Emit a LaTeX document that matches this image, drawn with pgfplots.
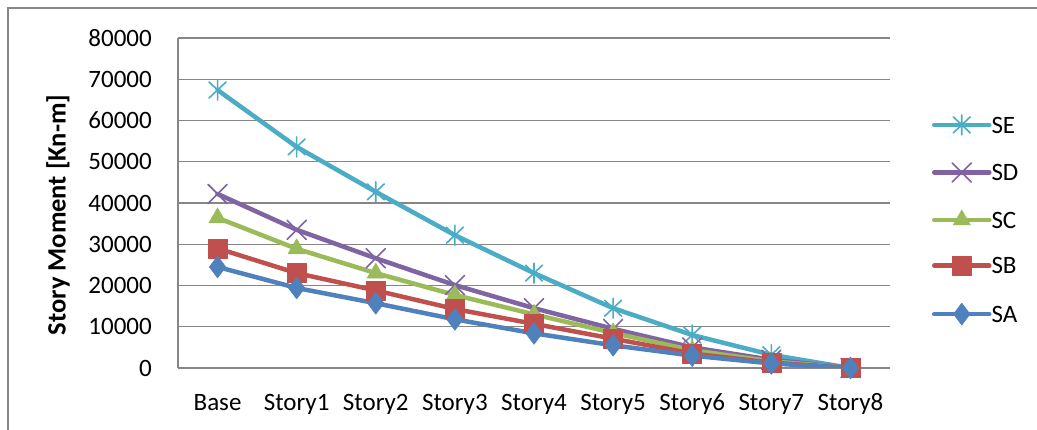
\documentclass[border=0pt]{standalone}
\usepackage{fontspec}
\setmainfont{Carlito}
\usepackage{pgfplots}
\pgfplotsset{compat=1.18}
\definecolor{cSE}{RGB}{75,172,198}
\definecolor{cSD}{RGB}{128,100,162}
\definecolor{cSC}{RGB}{155,187,89}
\definecolor{cSB}{RGB}{192,80,77}
\definecolor{cSA}{RGB}{79,129,189}
\definecolor{gridc}{RGB}{134,134,134}
\pgfdeclareplotmark{xstar}{%
  \pgfpathmoveto{\pgfqpoint{0pt}{\pgfplotmarksize}}%
  \pgfpathlineto{\pgfqpoint{0pt}{-\pgfplotmarksize}}%
  \pgfpathmoveto{\pgfqpoint{-0.85\pgfplotmarksize}{-0.8\pgfplotmarksize}}%
  \pgfpathlineto{\pgfqpoint{0.85\pgfplotmarksize}{0.8\pgfplotmarksize}}%
  \pgfpathmoveto{\pgfqpoint{-0.85\pgfplotmarksize}{0.8\pgfplotmarksize}}%
  \pgfpathlineto{\pgfqpoint{0.85\pgfplotmarksize}{-0.8\pgfplotmarksize}}%
  \pgfusepathqstroke}
\begin{document}
\begin{tikzpicture}
\useasboundingbox (0,0) rectangle (1037bp,430bp);
\fill[white] (0,0) rectangle (1037bp,430bp);
\draw[gridc, line width=1.5bp] (8bp,-2bp) -- (8bp,422bp) -- (1040bp,422bp);
\begin{axis}[
  at={(178bp,62bp)}, anchor=south west,
  width=712bp, height=330bp, scale only axis,
  xmin=-0.5, xmax=8.5, ymin=0, ymax=80000,
  xtick={0,...,8},
  xticklabels={Base,Story1,Story2,Story3,Story4,Story5,Story6,Story7,Story8},
  ytick={0,10000,...,80000},
  /pgf/number format/1000 sep={},
  /pgf/number format/assume math mode=true,
  scaled y ticks=false,
  axis lines*=left,
  axis line style={draw=gridc, line width=1.2bp},
  ymajorgrids,
  grid style={draw=gridc, line width=1.2bp},
  major tick length=0pt,
  tick style={draw=none},
  ticklabel style={font=\fontsize{25bp}{30bp}\selectfont},
  yticklabel style={anchor=east, inner sep=0pt, xshift=-26bp},
  xticklabel style={anchor=base, inner sep=0pt, yshift=-42bp},
  ylabel={\bfseries Story Moment [Kn-m]},
  ylabel style={at={(axis description cs:-0.1685,0.464)}, anchor=center, inner sep=0pt, font=\fontsize{26.5bp}{30bp}\selectfont},
  legend style={at={(axis description cs:1.0590,0.4485)}, anchor=west, draw=none, fill=none,
    inner sep=0pt, outer sep=0pt, row sep=28bp,
    font=\fontsize{25bp}{30bp}\selectfont,
    nodes={inner sep=0pt, text depth=0pt},
    /tikz/every even column/.append style={column sep=4bp}},
  legend cell align=left,
  legend image code/.code={%
    \draw[#1,mark repeat=2,mark phase=2] plot coordinates {(0bp,0bp) (27.5bp,0bp) (55bp,0bp)};},
  every axis plot/.append style={line width=4.5bp, line cap=round, line join=round},
]
\addplot[color=cSE, mark=xstar, mark size=10bp, mark options={line width=1.6bp}] coordinates {
(0,67400) (1,53600) (2,42700) (3,32200) (4,23000) (5,14500) (6,8000) (7,3200) (8,0)};
\addplot[color=cSD, mark=x, mark size=13.5bp, mark options={line width=1.6bp}] coordinates {
(0,42200) (1,33500) (2,26600) (3,20100) (4,14500) (5,9500) (6,5000) (7,2000) (8,0)};
\addplot[color=cSC, mark=triangle*, mark size=10bp, mark options={line width=0.5bp}] coordinates {
(0,36400) (1,28900) (2,23000) (3,17700) (4,13000) (5,8500) (6,4300) (7,1600) (8,0)};
\addplot[color=cSB, mark=square*, mark size=9.5bp, mark options={line width=0.5bp}] coordinates {
(0,29000) (1,23000) (2,18800) (3,14300) (4,10700) (5,7100) (6,3500) (7,1300) (8,0)};
\addplot[color=cSA, mark=diamond*, mark size=11bp, mark options={line width=0.5bp}] coordinates {
(0,24500) (1,19400) (2,15700) (3,11800) (4,8400) (5,5500) (6,3000) (7,1100) (8,0)};
\legend{SE,SD,SC,SB,SA}
\end{axis}
\end{tikzpicture}
\end{document}
